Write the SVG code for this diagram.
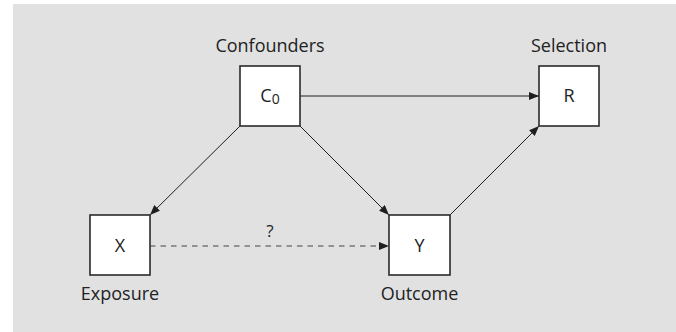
<svg xmlns="http://www.w3.org/2000/svg" width="676" height="332" viewBox="0 0 676 332">
  <defs>
    <style>
      .bg { fill: #e1e1e2; }
      .box { fill: #ffffff; stroke: #2b2b2b; stroke-width: 1.6; }
      .lbl { font-family: "Open Sans", "Liberation Sans", sans-serif; font-size: 18px; fill: #222222; text-anchor: middle; }
      .sym { font-family: "Open Sans", "Liberation Sans", sans-serif; font-size: 18px; fill: #222222; text-anchor: middle; }
      .edge { stroke: #1e1e1e; stroke-width: 1; fill: none; marker-end: url(#arrow); }
      .dash { stroke-dasharray: 5.5 5; stroke: #444444; }
    </style>
    <marker id="arrow" viewBox="0 0 10 8" refX="10" refY="4" markerWidth="10" markerHeight="8" markerUnits="userSpaceOnUse" orient="auto">
      <path d="M0,0 L10,4 L0,8 z" fill="#1e1e1e"/>
    </marker>
  </defs>

  <rect class="bg" x="13" y="4" width="663" height="328"/>

  <!-- connectors -->
  <g id="edges">
    <line class="edge" x1="300" y1="96" x2="539" y2="96"/>
    <line class="edge" x1="240" y1="126" x2="150" y2="215"/>
    <line class="edge" x1="300" y1="126" x2="389" y2="215"/>
    <line class="edge" x1="450" y1="215" x2="539" y2="126"/>
    <line class="edge dash" x1="150" y1="246" x2="389" y2="246"/>
    <text class="sym" x="270" y="237" style="font-size:17px">?</text>
  </g>

  <!-- confounders -->
  <g id="node-c0">
    <text class="lbl" x="270" y="52">Confounders</text>
    <rect class="box" x="240" y="66" width="60" height="60"/>
    <text class="sym" x="270" y="102">C<tspan font-size="14" dy="2">0</tspan></text>
  </g>

  <!-- selection -->
  <g id="node-r">
    <text class="lbl" x="569" y="52">Selection</text>
    <rect class="box" x="539" y="66" width="60" height="60"/>
    <text class="sym" x="569" y="102">R</text>
  </g>

  <!-- exposure -->
  <g id="node-x">
    <rect class="box" x="90" y="215" width="60" height="60"/>
    <text class="sym" x="120" y="252">X</text>
    <text class="lbl" x="120" y="300">Exposure</text>
  </g>

  <!-- outcome -->
  <g id="node-y">
    <rect class="box" x="389" y="215" width="61" height="60"/>
    <text class="sym" x="419.5" y="252">Y</text>
    <text class="lbl" x="419.5" y="300">Outcome</text>
  </g>
</svg>
